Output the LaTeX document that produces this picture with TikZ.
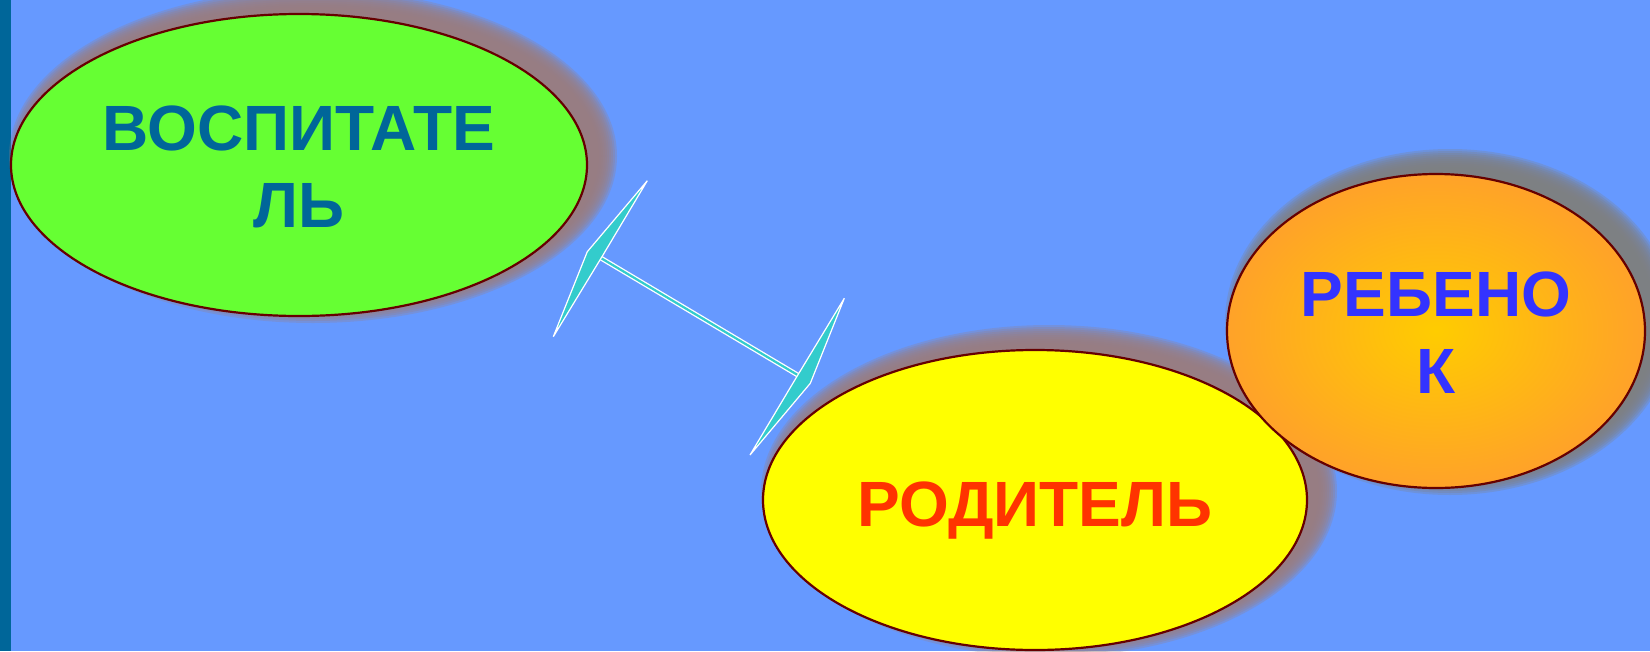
\documentclass[tikz,border=0pt]{standalone}
\usepackage{fontspec}
\setmainfont{Liberation Sans}
\usetikzlibrary{shapes.geometric}
\definecolor{bgblue}{HTML}{6699FF}
\definecolor{stripblue}{HTML}{006699}
\definecolor{greenfill}{HTML}{66FF33}
\definecolor{yellowfill}{HTML}{FFFF00}
\definecolor{orangein}{HTML}{FFCC00}
\definecolor{orangeout}{HTML}{FFA229}
\definecolor{rimred}{HTML}{660000}
\definecolor{tealtext}{HTML}{006699}
\definecolor{redtext}{HTML}{FF3300}
\definecolor{bluetext}{HTML}{3333FF}
\definecolor{arrowcyan}{HTML}{33CCCC}
\definecolor{shadowmauve}{RGB}{155,125,128}
\definecolor{shadowgray}{RGB}{128,128,128}
\newcommand\softshade[5]{%
  \foreach \k in {0,...,9}{%
    \fill[#5, opacity=0.28] (#1+14,#2-9) ellipse ({#3+16-2*\k} and {#4+16-2*\k});
  }}
\tikzset{
  blob/.style={ellipse, draw=rimred, line width=2.2pt, inner sep=0pt},
  word/.style={font=\fontsize{64}{64}\selectfont\bfseries, inner sep=0pt, anchor=base},
  headstyle/.style={fill=arrowcyan, draw=white, line width=1.2pt, line join=miter},
  linkstyle/.style={draw=white, line width=1.3pt, double=arrowcyan, double distance=2.2pt}
}
\begin{document}
\begin{tikzpicture}[x=1pt,y=-1pt]
\useasboundingbox (0,0) rectangle (1650,651);
\fill[bgblue] (0,0) rectangle (1650,651);
\fill[stripblue] (0,0) rectangle (11,651);

% ellipses with soft shadows
\softshade{299}{165}{288}{151}{shadowmauve}
\node[blob, fill=greenfill, minimum width=576pt, minimum height=302pt] (edu) at (299,165) {};
\softshade{1035}{500}{272}{150}{shadowmauve}
\node[blob, fill=yellowfill, minimum width=544pt, minimum height=300pt] (par) at (1035,500) {};
\softshade{1436}{331}{209}{157}{shadowgray}
\node[blob, inner color=orangein, outer color=orangeout, minimum width=418pt, minimum height=314pt] (kid) at (1436,331) {};

% texts
\node[word, text=tealtext] (t1) at (299,150) {ВОСПИТАТЕ};
\node[word, text=tealtext] (t2) at (299,227) {ЛЬ};
\node[word, text=redtext] (t3) at (1035,526) {РОДИТЕЛЬ};
\node[word, text=bluetext] (t4) at (1436,316) {РЕБЕНО};
\node[word, text=bluetext] (t5) at (1436,393) {К};

% connector
\coordinate (la) at (600,257.5);
\coordinate (lb) at (798.5,375.5);
\draw[linkstyle] (la) -- (lb);
\draw[headstyle] (647.3,180.7) -- (587.3,251.7) -- (553.3,336.7) -- (603,255) -- cycle;
\draw[headstyle] (844.3,298.3) -- (796,378) -- (750,455) -- (810.3,383.3) -- cycle;
\end{tikzpicture}
\end{document}
